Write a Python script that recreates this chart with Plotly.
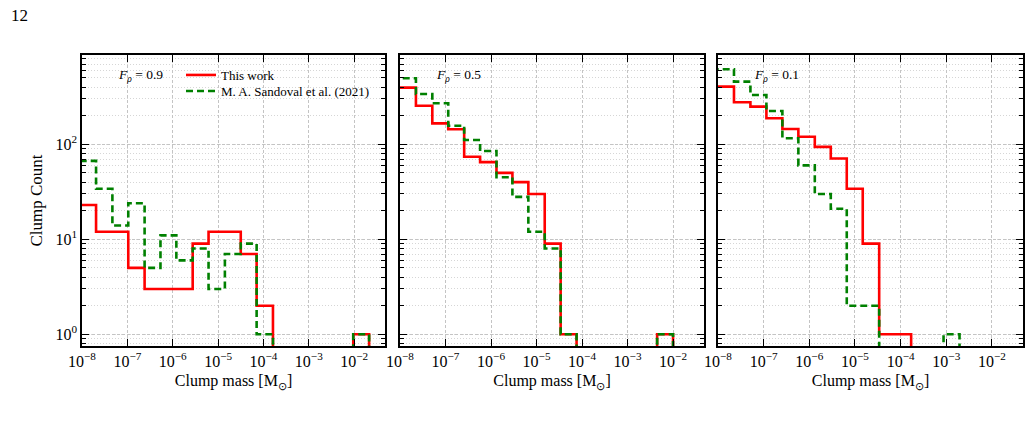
import plotly.graph_objects as go

# ---------------- data (log10 bin edges and clump counts per bin) ----------------
panel_labels = ["0.9", "0.5", "0.1"]

p1_edges_log = [-8.04, -7.69, -7.33, -6.98, -6.62, -6.27, -5.92, -5.56, -5.21, -4.85,
                -4.50, -4.15, -3.79, -3.44, -3.08, -2.73, -2.38, -2.02, -1.67]
p1_this_work = [23, 12, 12, 5, 3, 3, 3, 9, 12, 12, 7, 2, 0, 0, 0, 0, 0, 1]
p1_sandoval = [67, 34, 14, 24, 5, 11, 6, 8, 3, 7, 9, 1, 0, 0, 0, 0, 0, 1]

p2_edges_log = [-8.05, -7.65, -7.29, -6.94, -6.59, -6.24, -5.88, -5.53, -5.18,
                -4.82, -4.47, -4.12, -3.76, -3.41, -3.06, -2.71, -2.35, -2.00]
p2_this_work = [395, 255, 166, 144, 74, 65, 50, 40, 30, 9, 1, 0, 0, 0, 0, 0, 1]
p2_sandoval = [495, 339, 270, 157, 111, 85, 45, 28, 12, 8, 1, 0, 0, 0, 0, 0, 1]

p3_edges_log = [-8.05, -7.65, -7.29, -6.94, -6.59, -6.24, -5.88, -5.53,
                -5.18, -4.83, -4.47, -4.12, -3.77, -3.41, -3.06, -2.71]
p3_this_work = [405, 277, 249, 188, 145, 120, 94, 71, 34, 9, 1, 1, 0, 0, 0]
p3_sandoval = [616, 457, 330, 224, 116, 60, 30, 21, 2, 2, 0, 0, 0, 0, 1]

x_tick_exps = [-8, -7, -6, -5, -4, -3, -2]
y_tick_exps = [0, 1, 2]

panels = [
    (p1_edges_log, p1_this_work, p1_sandoval),
    (p2_edges_log, p2_this_work, p2_sandoval),
    (p3_edges_log, p3_this_work, p3_sandoval),
]

# ---------------- styling ----------------
W, H = 1030, 447
FONT = "Liberation Serif"
RED = "#ff0000"
GREEN = "#008000"
FLOOR = 1e-2  # empty bins drop below the visible log range


def step_xy(edges_log, counts):
    edges = [10 ** e for e in edges_log]
    ys = [c if c > 0 else FLOOR for c in counts]
    xs = [edges[0]] + edges
    yv = [FLOOR] + ys + [FLOOR]
    return xs, yv


x_domains = [(82 / W, 385 / W), (400 / W, 704 / W), (718 / W, 1023 / W)]
y_domain = (1 - 346 / H, 1 - 55 / H)

fig = go.Figure()

for i, (edges_log, tw, sv) in enumerate(panels):
    xa = "x" if i == 0 else f"x{i+1}"
    ya = "y" if i == 0 else f"y{i+1}"
    xs, ys = step_xy(edges_log, tw)
    fig.add_trace(go.Scatter(x=xs, y=ys, mode="lines", line_shape="hv",
                             line=dict(color=RED, width=2.6),
                             name="This work", showlegend=(i == 0), legend="legend",
                             xaxis=xa, yaxis=ya, hoverinfo="skip"))
    xs, ys = step_xy(edges_log, sv)
    fig.add_trace(go.Scatter(x=xs, y=ys, mode="lines", line_shape="hv",
                             line=dict(color=GREEN, width=2.6, dash="7px,4px"),
                             name="M. A. Sandoval et al. (2021)", showlegend=(i == 0),
                             legend="legend2",
                             xaxis=xa, yaxis=ya, hoverinfo="skip"))

x_ticktext = [f"10<sup>\u2212{abs(e)}</sup>" for e in x_tick_exps]
y_ticktext = [f"10<sup>{e}</sup>" for e in y_tick_exps]

leg_common = dict(xanchor="left", yanchor="middle", bgcolor="rgba(0,0,0,0)",
                  borderwidth=0, font=dict(family=FONT, size=13, color="black"))

layout = dict(
    width=W, height=H,
    margin=dict(l=0, r=0, t=0, b=0, autoexpand=False),
    paper_bgcolor="white", plot_bgcolor="white",
    font=dict(family=FONT, size=15, color="black"),
    legend=dict(x=181 / W, y=1 - 75 / H, **leg_common),
    legend2=dict(x=181 / W, y=1 - 91 / H, **leg_common),
)

GRID = "#c4c4c4"
for i in range(3):
    xkey = "xaxis" if i == 0 else f"xaxis{i+1}"
    ykey = "yaxis" if i == 0 else f"yaxis{i+1}"
    layout[xkey] = dict(
        type="log", domain=x_domains[i], range=[-8, -1.32],
        anchor="y" if i == 0 else f"y{i+1}", automargin=False,
        tickvals=[10 ** e for e in x_tick_exps], ticktext=x_ticktext,
        ticks="inside", ticklen=7, tickwidth=1.3, tickcolor="black",
        showline=True, linecolor="black", linewidth=1.6, mirror="ticks",
        showgrid=True, gridcolor=GRID, griddash="3px,2px", gridwidth=0.8,
        zeroline=False, tickfont=dict(family=FONT, size=16),
        title=dict(text="Clump mass [M<sub>\u2299</sub>]", standoff=6,
                   font=dict(family=FONT, size=16)),
    )
    layout[ykey] = dict(
        type="log", domain=y_domain, range=[-0.123, 2.94],
        anchor="x" if i == 0 else f"x{i+1}", automargin=False,
        tickvals=[10 ** e for e in y_tick_exps], ticktext=y_ticktext,
        showticklabels=(i == 0),
        ticks="inside", ticklen=7, tickwidth=1.3, tickcolor="black",
        showline=True, linecolor="black", linewidth=1.6, mirror="ticks",
        showgrid=True, gridcolor=GRID, griddash="3px,2px", gridwidth=0.8,
        zeroline=False, tickfont=dict(family=FONT, size=16),
        minor=dict(dtick="D1", ticks="inside", ticklen=4, tickwidth=1.0,
                   tickcolor="black", showgrid=True, gridcolor="#d6d6d6",
                   griddash="1px,2px", gridwidth=0.8),
    )
    if i == 0:
        layout[ykey]["title"] = dict(text="Clump Count", standoff=8,
                                     font=dict(family=FONT, size=17))

annotations = [
    dict(text="12", x=9 / W, y=1 - 16 / H, xref="paper", yref="paper",
         xanchor="left", yanchor="middle", showarrow=False,
         font=dict(family=FONT, size=17)),
]
for i, lab in enumerate(panel_labels):
    xr = "x domain" if i == 0 else f"x{i+1} domain"
    yr = "y domain" if i == 0 else f"y{i+1} domain"
    annotations.append(dict(
        text=f"<i>F<sub>\u03c1</sub></i> = {lab}", x=0.113, y=0.928,
        xref=xr, yref=yr, xanchor="left", yanchor="middle", showarrow=False,
        font=dict(family=FONT, size=13.5)))
layout["annotations"] = annotations

fig.update_layout(**layout)
fig.write_html("out.html")
